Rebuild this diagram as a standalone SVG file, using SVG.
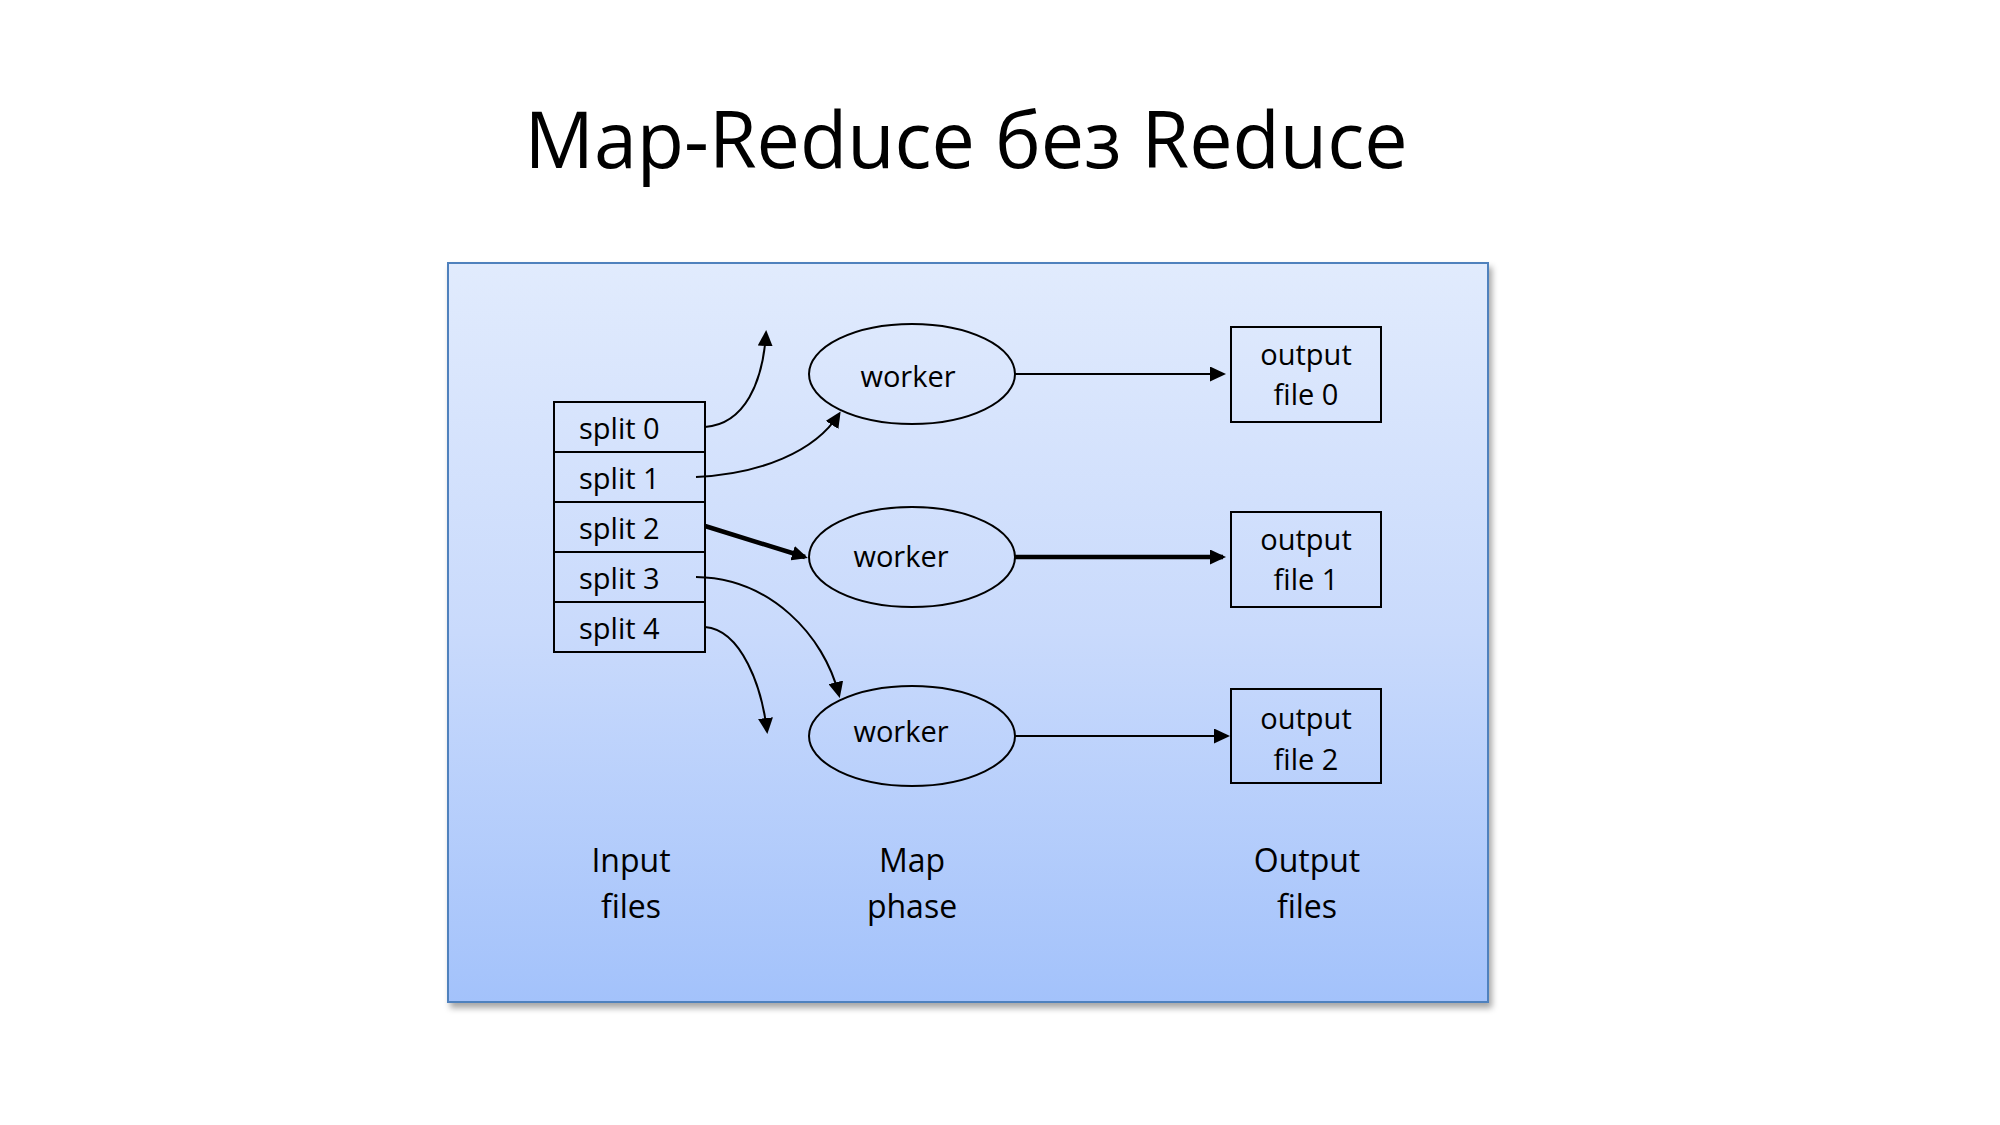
<svg xmlns="http://www.w3.org/2000/svg" width="2000" height="1125" viewBox="0 0 2000 1125">
  <defs>
    <linearGradient id="panelGrad" x1="0" y1="0" x2="0" y2="1">
      <stop offset="0" stop-color="#E1EBFD"/>
      <stop offset="0.5" stop-color="#C9DAFC"/>
      <stop offset="1" stop-color="#A3C2FB"/>
    </linearGradient>
    <filter id="shadow" x="-5%" y="-5%" width="110%" height="112%">
      <feDropShadow dx="3" dy="5" stdDeviation="3" flood-color="#000" flood-opacity="0.35"/>
    </filter>
    <marker id="arrow" markerUnits="userSpaceOnUse" markerWidth="16" markerHeight="15" refX="13" refY="7.5" orient="auto">
      <path d="M0,0 L16,7.5 L0,15 z" fill="#000"/>
    </marker>
  </defs>
  <style>
    text { font-family: "Open Sans", "Noto Sans", "DejaVu Sans", sans-serif; fill: #000; }
    .title { font-size: 78px; text-anchor: middle; }
    .node { font-size: 29px; }
    .mid { text-anchor: middle; }
    .label { font-size: 32px; text-anchor: middle; }
    .shape { fill: none; stroke: #000; stroke-width: 2; }
    .conn { fill: none; stroke: #000; stroke-width: 2; marker-end: url(#arrow); }
    .thick { stroke-width: 4.5; }
  </style>
  <rect width="2000" height="1125" fill="#FFFFFF"/>

  <text class="title" x="966" y="168" textLength="883" lengthAdjust="spacingAndGlyphs">Map-Reduce без Reduce</text>

  <g id="panel">
    <rect x="448" y="263" width="1040" height="739" fill="url(#panelGrad)" stroke="#4F81BD" stroke-width="2" filter="url(#shadow)"/>
  </g>

  <g id="input-files">
    <g id="split0">
      <rect class="shape" x="554" y="402" width="151" height="50"/>
      <text class="node" x="579" y="439">split 0</text>
    </g>
    <g id="split1">
      <rect class="shape" x="554" y="452" width="151" height="50"/>
      <text class="node" x="579" y="489">split 1</text>
    </g>
    <g id="split2">
      <rect class="shape" x="554" y="502" width="151" height="50"/>
      <text class="node" x="579" y="539">split 2</text>
    </g>
    <g id="split3">
      <rect class="shape" x="554" y="552" width="151" height="50"/>
      <text class="node" x="579" y="589">split 3</text>
    </g>
    <g id="split4">
      <rect class="shape" x="554" y="602" width="151" height="50"/>
      <text class="node" x="579" y="639">split 4</text>
    </g>
  </g>

  <g id="worker0">
    <ellipse class="shape" cx="912" cy="374" rx="103" ry="50"/>
    <text class="node mid" x="908" y="387">worker</text>
  </g>
  <g id="worker1">
    <ellipse class="shape" cx="912" cy="557" rx="103" ry="50"/>
    <text class="node mid" x="901" y="567">worker</text>
  </g>
  <g id="worker2">
    <ellipse class="shape" cx="912" cy="736" rx="103" ry="50"/>
    <text class="node mid" x="901" y="742">worker</text>
  </g>

  <g id="output0">
    <rect class="shape" x="1231" y="327" width="150" height="95"/>
    <text class="node mid" x="1306" y="365">output</text>
    <text class="node mid" x="1306" y="405">file 0</text>
  </g>
  <g id="output1">
    <rect class="shape" x="1231" y="512" width="150" height="95"/>
    <text class="node mid" x="1306" y="550">output</text>
    <text class="node mid" x="1306" y="590">file 1</text>
  </g>
  <g id="output2">
    <rect class="shape" x="1231" y="689" width="150" height="94"/>
    <text class="node mid" x="1306" y="729">output</text>
    <text class="node mid" x="1306" y="770">file 2</text>
  </g>

  <g id="connectors">
    <path class="conn" d="M705,427 C745,424 763,382 766,333"/>
    <path class="conn" d="M696,477 C760,474 815,452 839,414"/>
    <path class="conn thick" d="M705,526 L805,557"/>
    <path class="conn" d="M696,577 C770,578 824,635 839,695"/>
    <path class="conn" d="M705,627 C742,630 762,688 767,731"/>
    <path class="conn" d="M1015,374 L1223,374"/>
    <path class="conn thick" d="M1015,557 L1223,557"/>
    <path class="conn" d="M1015,736 L1227,736"/>
  </g>

  <g id="labels">
    <text class="label" x="631" y="872">Input</text>
    <text class="label" x="631" y="918">files</text>
    <text class="label" x="912" y="872">Map</text>
    <text class="label" x="912" y="918">phase</text>
    <text class="label" x="1307" y="872">Output</text>
    <text class="label" x="1307" y="918">files</text>
  </g>
</svg>
